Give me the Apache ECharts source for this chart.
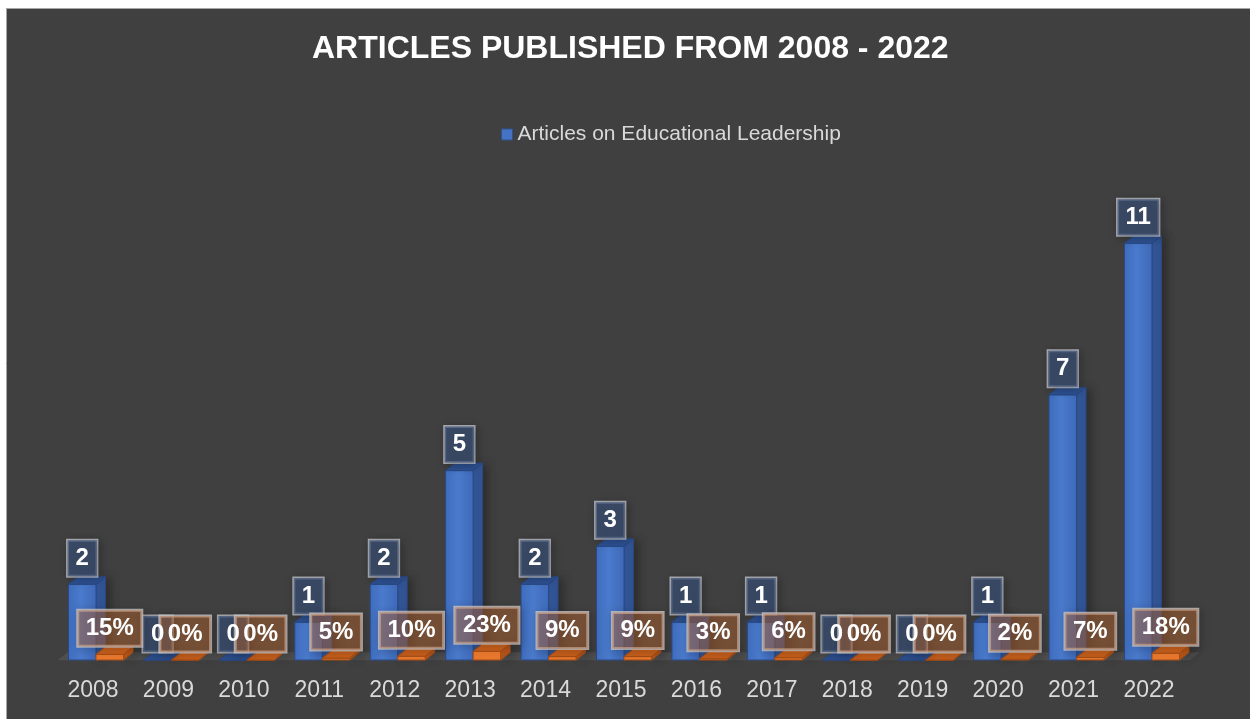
<!DOCTYPE html>
<html>
<head>
<meta charset="utf-8">
<script src="https://cdn.jsdelivr.net/npm/echarts@6/dist/echarts.min.js"></script>
<style>
  html, body { margin: 0; padding: 0; background: #ffffff; }
  #chart { width: 1250px; height: 719px; }
</style>
</head>
<body>
<div id="chart"></div>
<script>
// Publication years on the category axis
const years = ['2008', '2009', '2010', '2011', '2012', '2013', '2014', '2015',
               '2016', '2017', '2018', '2019', '2020', '2021', '2022'];
// Number of articles on educational leadership per year
const articles = [2, 0, 0, 1, 2, 5, 2, 3, 1, 1, 0, 0, 1, 7, 11];
// Share per year (drawn as the small orange columns, labelled in %)
const shares = [0.15, 0, 0, 0.05, 0.10, 0.23, 0.09, 0.09, 0.03, 0.06, 0, 0, 0.02, 0.07, 0.18];

const SERIES_NAME = 'Articles on Educational Leadership';
const FONT = 'Arial, "Liberation Sans", Helvetica, sans-serif';
const BAR_RATIO = 0.365;     // column width relative to the category band
const DEPTH_X = 0.125;       // 3D depth offsets relative to the band
const DEPTH_Y = 0.1;

const blueFaces = {
  front: { type: 'linear', x: 0, y: 0, x2: 1, y2: 0,
           colorStops: [{ offset: 0, color: '#3f6cbd' }, { offset: 0.45, color: '#4a7acc' }, { offset: 1, color: '#3e69b8' }] },
  side: '#33579a', top: '#2e5294', edge: '#2a4a85'
};
const orangeFaces = {
  front: '#e8772e', side: '#b9561a', top: '#c9601d', edge: '#a54d14'
};

// Draws one 3D column (front, side and top faces) from the axis scales
function columnRenderer(slot, faces) {
  return function (params, api) {
    const idx = api.value(0);
    const val = api.value(1);
    const base = api.coord([idx, 0]);
    const top = api.coord([idx, val]);
    const band = api.size([1, 0])[0];
    const bw = band * BAR_RATIO;
    const dx = band * DEPTH_X, dy = band * DEPTH_Y;
    const x0 = slot === 0 ? base[0] - bw : base[0];
    const x1 = x0 + bw;
    const yT = top[1], yB = base[1];
    return {
      type: 'group',
      children: [
        { type: 'polygon',
          shape: { points: [[x1, yT], [x1 + dx, yT - dy], [x1 + dx, yB - dy], [x1, yB]] },
          style: { fill: faces.side, stroke: faces.edge, lineWidth: 1,
                   shadowBlur: 10, shadowColor: 'rgba(0,0,0,0.35)', shadowOffsetX: 4 } },
        { type: 'rect',
          shape: { x: x0, y: yT, width: bw, height: yB - yT },
          style: { fill: faces.front, stroke: faces.edge, lineWidth: 1 } },
        { type: 'polygon',
          shape: { points: [[x0, yT], [x0 + dx, yT - dy], [x1 + dx, yT - dy], [x1, yT]] },
          style: { fill: faces.top, stroke: faces.edge, lineWidth: 1 } }
      ]
    };
  };
}

// Floor strip under each category band
function floorRenderer(params, api) {
  const c = api.coord([api.value(0), 0]);
  const band = api.size([1, 0])[0];
  const dx = band * DEPTH_X, dy = band * DEPTH_Y;
  const xl = c[0] - band / 2, xr = c[0] + band / 2;
  return {
    type: 'polygon',
    shape: { points: [[xl, c[1]], [xl + dx, c[1] - dy], [xr + dx, c[1] - dy], [xr, c[1]]] },
    style: { fill: '#4f4f4f', stroke: '#4f4f4f', lineWidth: 0.6 }
  };
}

const fmtCount = p => String(p.value);
const fmtShare = p => Math.round(p.value * 100) + '%';

// Shared label geometry; boxes and texts are drawn in separate layers so
// every text sits above every (translucent) box
function labelStyle(formatter, boxFill, boxEdge, textColor, withShadow) {
  return {
    show: true, position: 'top', distance: 8, formatter: formatter,
    color: textColor, fontFamily: FONT, fontWeight: 'bold', fontSize: 24, lineHeight: 24,
    padding: [6, 8, 6, 8], borderWidth: 1.5,
    backgroundColor: boxFill, borderColor: boxEdge,
    shadowBlur: withShadow ? 8 : 0, shadowColor: 'rgba(0,0,0,0.3)',
    shadowOffsetX: withShadow ? 2 : 0, shadowOffsetY: withShadow ? 2 : 0
  };
}

function labelSeries(data, axis, z, label) {
  return {
    type: 'bar', silent: true, z: z, xAxisIndex: axis,
    barWidth: (BAR_RATIO * 100) + '%', barGap: '0%',
    itemStyle: { color: 'rgba(0,0,0,0)' },
    emphasis: { disabled: true },
    data: data, label: label
  };
}

const CLEAR = 'rgba(0,0,0,0)';

const chart = echarts.init(document.getElementById('chart'), null, { renderer: 'canvas' });

chart.setOption({
  backgroundColor: '#404040',
  animation: false,
  graphic: [
    { type: 'rect', silent: true, z: 100, shape: { x: 0, y: 0, width: 1250, height: 8 }, style: { fill: '#ffffff' } },
    { type: 'rect', silent: true, z: 100, shape: { x: 0, y: 0, width: 6, height: 719 }, style: { fill: '#ffffff' } },
    { type: 'line', silent: true, z: 101, shape: { x1: 6, y1: 8.5, x2: 1250, y2: 8.5 }, style: { stroke: '#a6a6a6', lineWidth: 1 } },
    { type: 'line', silent: true, z: 101, shape: { x1: 6.5, y1: 8, x2: 6.5, y2: 719 }, style: { stroke: '#a6a6a6', lineWidth: 1 } }
  ],
  title: {
    text: 'ARTICLES PUBLISHED FROM 2008 - 2022',
    left: 312, top: 33, padding: 0,
    textStyle: { color: '#ffffff', fontFamily: FONT, fontWeight: 'bold', fontSize: 32, lineHeight: 32 }
  },
  legend: {
    left: 501, top: 124, padding: 0,
    itemWidth: 11, itemHeight: 11,
    textStyle: { color: '#d9d9d9', fontFamily: FONT, fontSize: 21 },
    data: [{ name: SERIES_NAME, icon: 'rect',
             itemStyle: { color: '#4472C4', borderColor: '#2F528F', borderWidth: 1 } }]
  },
  grid: { left: 58.3, right: 60.3, top: 205.4, bottom: 59 },
  xAxis: [
    {
      type: 'category', data: years,
      axisLine: { show: false }, axisTick: { show: false },
      axisLabel: { color: '#d9d9d9', fontFamily: FONT, fontSize: 23, lineHeight: 23, margin: 19, padding: [0, 6, 0, 0] }
    },
    { type: 'category', data: years, show: false }
  ],
  yAxis: { type: 'value', min: 0, max: 12, show: false, splitLine: { show: false } },
  series: [
    { type: 'custom', name: 'floor', silent: true, z: 1,
      data: years.map((y, i) => [i]), encode: { x: 0 },
      renderItem: floorRenderer },
    { type: 'custom', name: SERIES_NAME, silent: true, z: 2,
      itemStyle: { color: '#4472C4' },
      data: articles.map((v, i) => [i, v]), encode: { x: 0, y: 1 },
      renderItem: columnRenderer(0, blueFaces) },
    { type: 'custom', name: 'share', silent: true, z: 3,
      itemStyle: { color: '#ED7D31' },
      data: shares.map((v, i) => [i, v]), encode: { x: 0, y: 1 },
      renderItem: columnRenderer(1, orangeFaces) },
    // label boxes
    labelSeries(articles, 0, 10,
      labelStyle(fmtCount, 'rgba(58,80,118,0.72)', 'rgba(195,198,205,0.8)', CLEAR, true)),
    labelSeries(shares, 0, 11,
      labelStyle(fmtShare, 'rgba(200,110,50,0.42)', 'rgba(205,200,200,0.8)', CLEAR, true)),
    // label texts
    labelSeries(articles, 1, 12,
      labelStyle(fmtCount, CLEAR, CLEAR, '#ffffff', false)),
    labelSeries(shares, 1, 12,
      labelStyle(fmtShare, CLEAR, CLEAR, '#ffffff', false))
  ]
});
</script>
</body>
</html>
